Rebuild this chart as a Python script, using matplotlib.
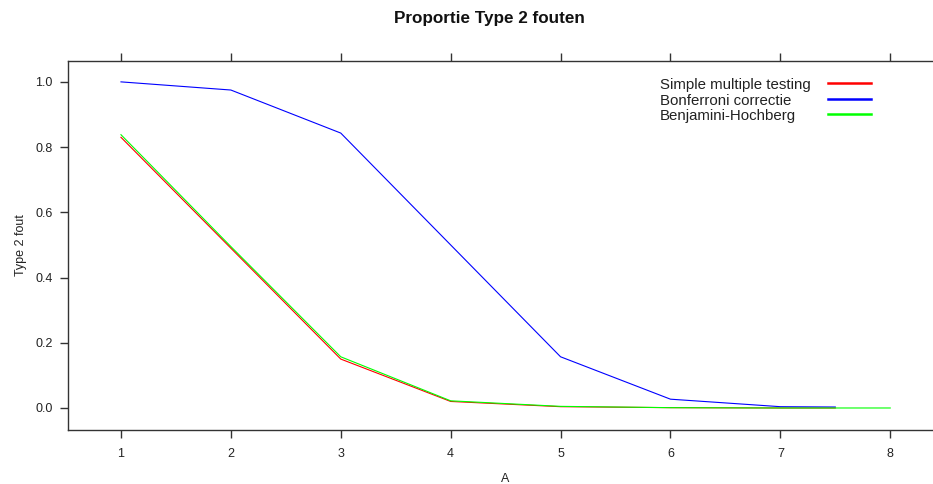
import matplotlib.pyplot as plt
from matplotlib.lines import Line2D

plt.rcParams['font.family'] = ['Liberation Sans', 'DejaVu Sans']

# Proportion of type 2 errors per value of A
a_simple = [1, 2, 3, 4, 5, 6, 7, 7.5]
simple = [0.830, 0.490, 0.150, 0.020, 0.004, 0.001, 0.000, 0.000]

a_bonf = [1, 2, 3, 4, 5, 6, 7, 7.5]
bonferroni = [1.000, 0.975, 0.843, 0.500, 0.157, 0.027, 0.004, 0.003]

a_bh = [1, 2, 3, 4, 5, 6, 7, 8]
bh = [0.838, 0.495, 0.157, 0.022, 0.005, 0.001, 0.000, 0.000]

labels = ['Simple multiple testing', 'Bonferroni correctie', 'Benjamini-Hochberg']
colors = ['#ff0000', '#0000ff', '#00ff00']

W, H = 933, 484
fig = plt.figure(figsize=(W / 100, H / 100), dpi=100)
# panel box runs off the right edge, like the lattice page it comes from
ax = fig.add_axes([68 / W, 1 - 430 / H, (943 - 68) / W, (430 - 61) / H])

ax.plot(a_simple, simple, color=colors[0], lw=0.8)
ax.plot(a_bonf, bonferroni, color=colors[1], lw=0.8)
ax.plot(a_bh, bh, color=colors[2], lw=0.8)

ax.set_xlim(0.518, 8.48)
ax.set_ylim(-0.0675, 1.064)
ax.set_xticks(range(1, 9))
ax.set_yticks([0.0, 0.2, 0.4, 0.6, 0.8, 1.0])
ax.set_yticklabels(['0.0', '0.2', '0.4', '0.6', '0.8', '1.0'])

edge = '#333333'
for s in ax.spines.values():
    s.set_color(edge)
    s.set_linewidth(1.0)
ax.tick_params(axis='both', direction='out', length=6, width=1.0, color=edge,
               labelsize=9, labelcolor='#222222', pad=5)
ax.tick_params(axis='x', top=True, pad=7)

ax.set_xlabel('A', fontsize=9, color='#222222', labelpad=9)
ax.set_ylabel('Type 2 fout', fontsize=9, color='#222222', labelpad=6)

# key in the top right corner: text first, line after
ys = [85, 100.7, 116]
for lab, col, yy in zip(labels, colors, ys):
    fy = 1 - yy / H
    fig.text(660 / W, fy, lab, fontsize=10.8, color='#222222', va='center', ha='left')
    fig.add_artist(Line2D([828 / W, 871 / W], [fy + 2 / H, fy + 2 / H],
                          color=col, lw=1.8, transform=fig.transFigure))

fig.text(489 / W, 1 - 19 / H, 'Proportie Type 2 fouten', fontsize=12.3,
         fontweight='bold', ha='center', va='center', color='#111111')

fig.savefig('out.png', dpi=100)
